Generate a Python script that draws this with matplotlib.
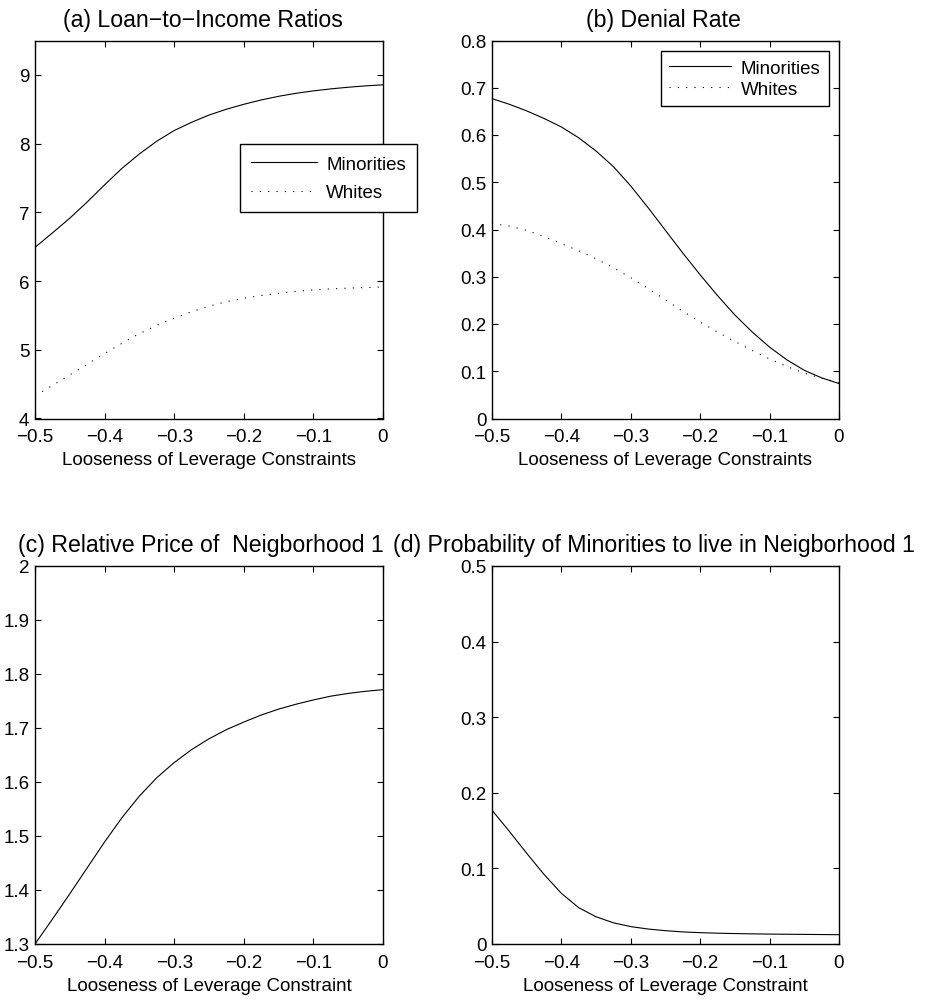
import numpy as np
import matplotlib
matplotlib.use("Agg")
import matplotlib.pyplot as plt
from matplotlib.ticker import FuncFormatter

plt.rcParams['font.family'] = ['Liberation Sans', 'DejaVu Sans']

# looseness grid shared by the curves (step 0.025)
x_grid = [-0.5, -0.475, -0.45, -0.425, -0.4, -0.375, -0.35, -0.325, -0.3, -0.275,
          -0.25, -0.225, -0.2, -0.175, -0.15, -0.125, -0.1, -0.075, -0.05, -0.025, 0.0]

# (a) loan-to-income ratios
lti_minorities = [6.49, 6.70, 6.915, 7.15, 7.40, 7.64, 7.85, 8.035, 8.19, 8.31,
                  8.415, 8.50, 8.572, 8.635, 8.688, 8.732, 8.767, 8.796, 8.820, 8.840, 8.855]
lti_whites = [4.33, 4.48, 4.635, 4.79, 4.945, 5.095, 5.235, 5.355, 5.46, 5.555,
              5.635, 5.70, 5.75, 5.79, 5.823, 5.85, 5.87, 5.886, 5.897, 5.906, 5.913]

# (b) denial rate
denial_minorities = [0.677, 0.665, 0.651, 0.635, 0.617, 0.594, 0.566, 0.533, 0.492, 0.446,
                     0.398, 0.350, 0.304, 0.260, 0.219, 0.183, 0.151, 0.124, 0.102, 0.086, 0.074]
denial_whites = [0.413, 0.407, 0.398, 0.385, 0.370, 0.355, 0.338, 0.319, 0.298, 0.275,
                 0.251, 0.227, 0.204, 0.183, 0.163, 0.144, 0.126, 0.110, 0.096, 0.085, 0.075]

# (c) relative price of neighborhood 1
rel_price = [1.300, 1.346, 1.393, 1.441, 1.489, 1.534, 1.574, 1.608, 1.636, 1.660,
             1.680, 1.697, 1.711, 1.724, 1.735, 1.744, 1.752, 1.759, 1.764, 1.768, 1.771]

# (d) probability of minorities living in neighborhood 1
prob_minorities = [0.177, 0.149, 0.120, 0.092, 0.067, 0.048, 0.036, 0.028, 0.023, 0.0198,
                   0.0176, 0.0160, 0.0150, 0.0143, 0.0138, 0.0134, 0.0131, 0.0129, 0.0127, 0.0125, 0.0123]

x_ticks = [-0.5, -0.4, -0.3, -0.2, -0.1, 0]

FS = 13.5
FS_TITLE = 16.7


def fmt(v, pos):
    return f"{v:g}".replace('-', '\u2212')


def style_axes(ax, ylim, yticks, xlabel):
    ax.set_xlim(-0.5, 0)
    ax.set_ylim(*ylim)
    ax.set_xticks(x_ticks)
    ax.set_yticks(yticks)
    ax.xaxis.set_major_formatter(FuncFormatter(fmt))
    ax.yaxis.set_major_formatter(FuncFormatter(fmt))
    ax.tick_params(direction='in', top=True, right=True, length=4, width=0.8,
                   labelsize=FS, color='black')
    ax.tick_params(axis='x', pad=7)
    ax.tick_params(axis='y', pad=4)
    for s in ax.spines.values():
        s.set_linewidth(1.0)
    ax.set_xlabel(xlabel, fontsize=FS, labelpad=4.5)


def boxed_legend(ax, **kw):
    leg = ax.legend(fontsize=FS, frameon=True, fancybox=False, framealpha=1,
                    edgecolor='black', borderaxespad=0, **kw)
    leg.get_frame().set_linewidth(1.0)
    return leg


fig = plt.figure(figsize=(9.25, 10.03), dpi=100)
W, H = 925, 1003


def add_ax(left, top, right, bottom):
    return fig.add_axes([left / W, 1 - bottom / H, (right - left) / W, (bottom - top) / H])


ax_a = add_ax(35, 41.5, 383, 419.5)
ax_b = add_ax(492, 41.5, 839, 419.5)
ax_c = add_ax(35, 567, 383, 945)
ax_d = add_ax(492, 567, 839, 945)

dots = (0, (1, 6.5))
lw = 0.8

# (a)
ax_a.plot(x_grid, lti_minorities, color='black', lw=lw, label='Minorities')
ax_a.plot(x_grid, lti_whites, color='black', lw=lw, linestyle=dots, label='Whites')
style_axes(ax_a, (4, 9.5), [4, 5, 6, 7, 8, 9], 'Looseness of Leverage Constraints')
ax_a.set_title('(a) Loan\u2212to\u2212Income Ratios', fontsize=FS_TITLE, pad=10.5, x=0.484)
boxed_legend(ax_a, loc='upper left', bbox_to_anchor=(0.589, 0.725),
             handlelength=3.5, handletextpad=0.5, labelspacing=0.6, borderpad=0.6)

# (b)
ax_b.plot(x_grid, denial_minorities, color='black', lw=lw, label='Minorities')
ax_b.plot(x_grid, denial_whites, color='black', lw=lw, linestyle=dots, label='Whites')
style_axes(ax_b, (0, 0.8), [0, 0.1, 0.2, 0.3, 0.4, 0.5, 0.6, 0.7, 0.8],
           'Looseness of Leverage Constraints')
ax_b.set_title('(b) Denial Rate', fontsize=FS_TITLE, pad=10.5, x=0.494)
boxed_legend(ax_b, loc='upper right', bbox_to_anchor=(0.971, 0.972),
             handlelength=3.3, handletextpad=0.5, labelspacing=0.2, borderpad=0.45)

# (c)
ax_c.plot(x_grid, rel_price, color='black', lw=lw)
style_axes(ax_c, (1.3, 2.0), [1.3, 1.4, 1.5, 1.6, 1.7, 1.8, 1.9, 2.0],
           'Looseness of Leverage Constraint')
ax_c.set_title('(c) Relative Price of  Neigborhood 1', fontsize=FS_TITLE, pad=10.5, x=0.477)

# (d)
ax_d.plot(x_grid, prob_minorities, color='black', lw=lw)
style_axes(ax_d, (0, 0.5), [0, 0.1, 0.2, 0.3, 0.4, 0.5],
           'Looseness of Leverage Constraint')
ax_d.set_title('(d) Probability of Minorities to live in Neigborhood 1',
               fontsize=FS_TITLE, pad=10.5, x=0.467)

fig.savefig('out.png', dpi=100)
